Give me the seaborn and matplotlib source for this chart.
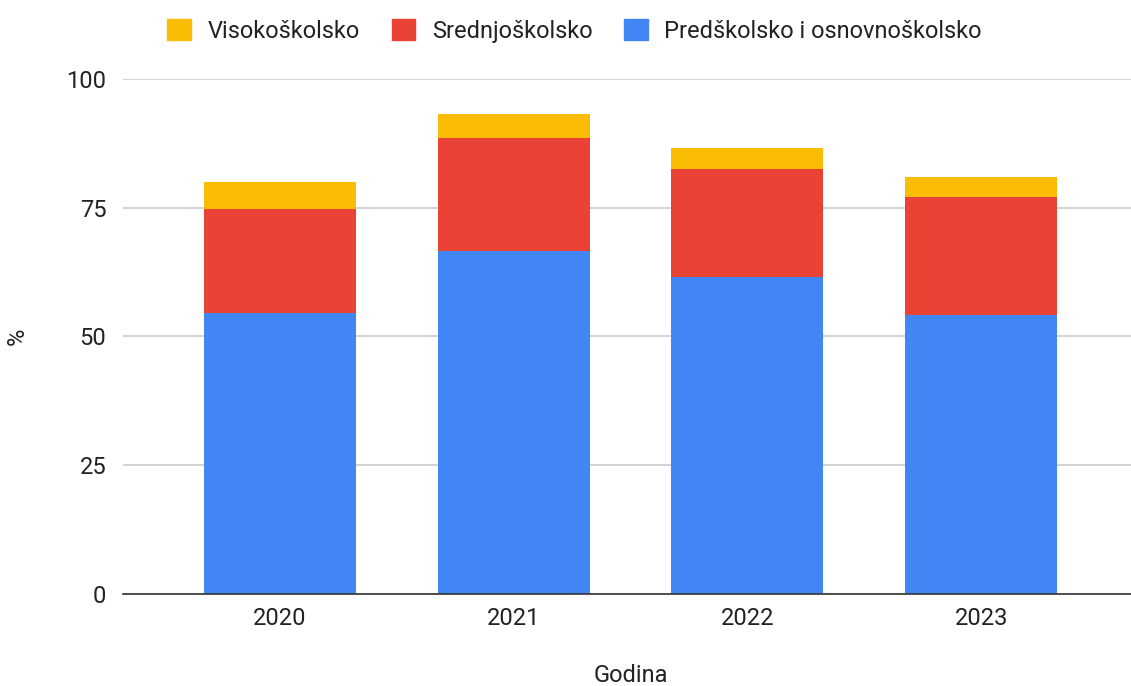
import numpy as np
import pandas as pd
import matplotlib
matplotlib.use("Agg")
import matplotlib.pyplot as plt
import seaborn as sns
from matplotlib.patches import Patch

# data (%)
years = ["2020", "2021", "2022", "2023"]
osnovno = [54.5, 66.6, 61.5, 54.1]     # Predškolsko i osnovnoškolsko
srednje = [20.3, 21.9, 21.1, 23.0]     # Srednjoškolsko
visoko = [5.1, 4.6, 3.9, 3.9]          # Visokoškolsko

c_blue = "#4285F4"
c_red = "#EA4335"
c_yellow = "#FBBC04"
txt = "#222222"
fs = 17

sns.set_style("white")
plt.rcParams["font.family"] = ["Roboto", "DejaVu Sans"]

df = pd.DataFrame({"godina": years, "osnovno": osnovno,
                   "srednje": srednje, "visoko": visoko})
df["do_srednje"] = df["osnovno"] + df["srednje"]
df["ukupno"] = df["do_srednje"] + df["visoko"]

fig = plt.figure(figsize=(11.31, 6.86), dpi=100)
ax = fig.add_axes([0.1088, 0.134, 0.8912, 0.751])

# stacked bars: draw cumulative totals, tallest first
for col, c in [("ukupno", c_yellow), ("do_srednje", c_red), ("osnovno", c_blue)]:
    sns.barplot(data=df, x="godina", y=col, color=c, width=0.65,
                saturation=1, linewidth=0, edgecolor="none", ax=ax, zorder=2)

ax.set_ylim(0, 100)
ax.set_xlim(-0.67, 3.64)
ax.set_yticks([0, 25, 50, 75, 100])
ax.yaxis.grid(True, color="#cccccc", linewidth=1.2, zorder=0)
ax.set_axisbelow(True)
for s in ["top", "right", "left"]:
    ax.spines[s].set_visible(False)
ax.spines["bottom"].set_color("#333333")
ax.spines["bottom"].set_linewidth(1.2)
ax.spines["bottom"].set_zorder(3)
ax.tick_params(axis="both", length=0, labelsize=fs, colors=txt)
ax.tick_params(axis="x", pad=9)
ax.tick_params(axis="y", pad=12)

ax.set_xlabel("Godina", fontsize=fs, color=txt)
ax.set_ylabel("%", fontsize=fs, color=txt)
ax.xaxis.set_label_coords((631 - 123) / 1008, -0.135)
ax.yaxis.set_label_coords((29 - 123) / 1008, 0.5)

handles = [Patch(color=c_yellow, label="Visokoškolsko"),
           Patch(color=c_red, label="Srednjoškolsko"),
           Patch(color=c_blue, label="Predškolsko i osnovnoškolsko")]
fig.legend(handles=handles, loc="center", bbox_to_anchor=(0.508, 0.955),
           ncol=3, frameon=False, fontsize=fs, handlelength=1.0,
           handleheight=1.0, columnspacing=1.35, handletextpad=0.7,
           labelcolor=txt)

fig.savefig("out.png", dpi=100)
